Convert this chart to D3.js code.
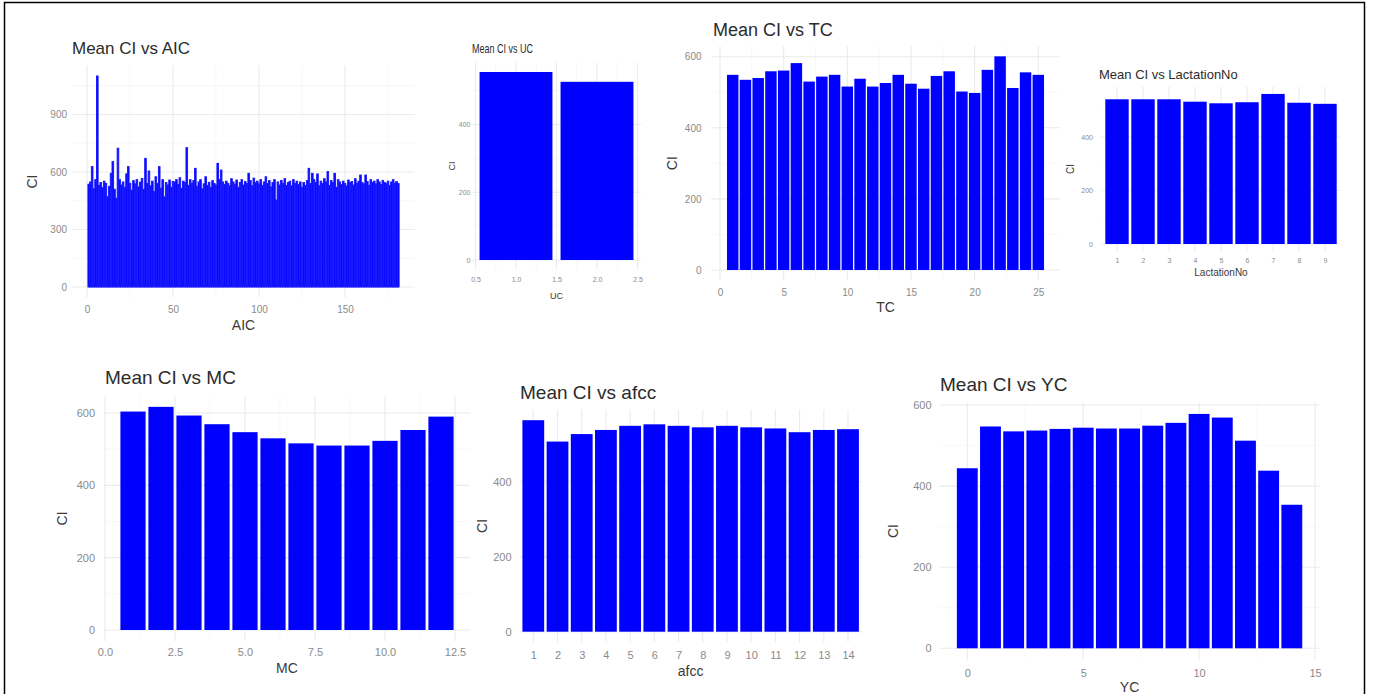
<!DOCTYPE html>
<html>
<head>
<meta charset="utf-8">
<script src="https://cdn.jsdelivr.net/npm/d3@7"></script>
<style>
  body { margin: 0; background: #fff; }
  svg { display: block; }
</style>
</head>
<body>
<div id="chart"></div>
<script>
// ---- data: mean CI per level of each variable ----
const aicCats = d3.range(1, 182);
const aicValues = [
  536, 548, 628, 512, 560, 1101, 530, 545, 518, 552,
  540, 471, 525, 593, 654, 510, 463, 724, 560, 532,
  548, 520, 590, 628, 541, 505, 555, 538, 560, 522,
  547, 566, 510, 671, 540, 605, 528, 552, 498, 575,
  540, 628, 515, 560, 470, 545, 532, 558, 520, 550,
  548, 560, 535, 570, 515, 552, 545, 727, 530, 560,
  541, 555, 619, 525, 548, 560, 512, 538, 575, 530,
  546, 520, 555, 540, 532, 645, 560, 610, 548, 535,
  552, 540, 528, 565, 548, 536, 558, 520, 545, 560,
  532, 550, 540, 593, 555, 528, 568, 545, 552, 538,
  560, 530, 548, 575, 540, 555, 522, 545, 560, 454,
  548, 532, 556, 540, 565, 530, 545, 552, 528, 560,
  540, 552, 535, 548, 520, 545, 530, 555, 619, 540,
  593, 560, 545, 590, 528, 552, 540, 565, 548, 602,
  530, 555, 545, 593, 520, 560, 548, 535, 552, 540,
  528, 558, 545, 550, 532, 565, 540, 552, 584, 545,
  538, 584, 550, 530, 560, 545, 552, 538, 560, 548,
  535, 556, 545, 540, 552, 530, 548, 560, 542, 550,
  540
];
const aicXTicks = [0, 50, 100, 150];
const aicYTicks = [0, 300, 600, 900];

const ucCats = [1, 2];
const ucValues = [555, 526];
const ucXTicks = [0.5, 1.0, 1.5, 2.0, 2.5];
const ucYTicks = [0, 200, 400];

const tcCats = d3.range(1, 26);
const tcValues = [549, 535, 540, 559, 561, 582, 530, 544, 549, 516,
                  538, 516, 526, 549, 524, 510, 546, 559, 502, 498,
                  563, 601, 512, 556, 549];
const tcXTicks = [0, 5, 10, 15, 20, 25];
const tcYTicks = [0, 200, 400, 600];

const lactCats = d3.range(1, 10);
const lactValues = [541, 541, 541, 532, 526, 530, 561, 528, 524];
const lactYTicks = [0, 200, 400];

const mcCats = d3.range(1, 13);
const mcValues = [604, 617, 593, 569, 547, 530, 516, 510, 510, 523, 553, 590];
const mcXTicks = [0, 2.5, 5, 7.5, 10, 12.5];
const mcYTicks = [0, 200, 400, 600];

const afccCats = d3.range(1, 15);
const afccValues = [564, 507, 527, 538, 549, 553, 549, 545, 549, 545, 542, 532, 538, 540];
const afccYTicks = [0, 200, 400];

const ycCats = d3.range(0, 15);
const ycValues = [444, 547, 535, 537, 541, 544, 542, 542, 549, 556, 578, 569, 512, 438, 354];
const ycXTicks = [0, 5, 10, 15];
const ycYTicks = [0, 200, 400, 600];

// ---- layout of the seven pasted-together plots ----
const FONT = "'Liberation Sans', Arial, Helvetica, sans-serif";
const width = 1373, height = 694;

const panels = [
  { title: "Mean CI vs AIC", xTitle: "AIC", cats: aicCats, values: aicValues,
    xTicks: aicXTicks, yTicks: aicYTicks, fmt: d3.format("d"), barStroke: 1,
    xDomain: [0, 150], xRange: [87, 345], yDomain: [0, 900], yRange: [287, 114.5],
    titleX: 72, titleY: 54, titleSize: 17, yLabelRight: 67, xLabelCenter: 310,
    yTitleX: 32, xTitleY: 330, axisTitleSize: 14, tickSize: 10 },
  { title: "Mean CI vs UC", xTitle: "UC", cats: ucCats, values: ucValues,
    xTicks: ucXTicks, yTicks: ucYTicks, fmt: d3.format(".1f"),
    xDomain: [1, 2], xRange: [516, 597], yDomain: [0, 400], yRange: [260, 124.5],
    titleX: 472, titleY: 53, titleSize: 13, titleLength: 61, yLabelRight: 470.5, xLabelCenter: 280,
    yTitleX: 452, xTitleY: 299, axisTitleSize: 9, tickSize: 7 },
  { title: "Mean CI vs TC", xTitle: "TC", cats: tcCats, values: tcValues,
    xTicks: tcXTicks, yTicks: tcYTicks, fmt: d3.format("d"),
    xDomain: [0, 25], xRange: [720, 1038.3], yDomain: [0, 600], yRange: [270, 56.7],
    titleX: 713, titleY: 36, titleSize: 18, yLabelRight: 701.5, xLabelCenter: 293,
    yTitleX: 672, xTitleY: 312, axisTitleSize: 14, tickSize: 10 },
  { title: "Mean CI vs LactationNo", xTitle: "LactationNo", cats: lactCats, values: lactValues,
    xTicks: lactCats, yTicks: lactYTicks, fmt: d3.format("d"), discrete: true,
    xDomain: [1, 9], xRange: [1117, 1325], yDomain: [0, 400], yRange: [244, 137],
    titleX: 1099, titleY: 79, titleSize: 13, yLabelRight: 1093, xLabelCenter: 261,
    yTitleX: 1070, xTitleY: 276, axisTitleSize: 10, tickSize: 7 },
  { title: "Mean CI vs MC", xTitle: "MC", cats: mcCats, values: mcValues,
    xTicks: mcXTicks, yTicks: mcYTicks, fmt: d3.format(".1f"),
    xDomain: [0, 12.5], xRange: [105, 455], yDomain: [0, 600], yRange: [630, 413],
    titleX: 105, titleY: 384, titleSize: 19, yLabelRight: 95, xLabelCenter: 652,
    yTitleX: 62, xTitleY: 673, axisTitleSize: 14, tickSize: 11 },
  { title: "Mean CI vs afcc", xTitle: "afcc", cats: afccCats, values: afccValues,
    xTicks: afccCats, yTicks: afccYTicks, fmt: d3.format("d"), discrete: true,
    xDomain: [1, 14], xRange: [533.3, 848], yDomain: [0, 400], yRange: [631.7, 481.7],
    titleX: 520, titleY: 399, titleSize: 19, yLabelRight: 511.5, xLabelCenter: 655,
    yTitleX: 482, xTitleY: 676, axisTitleSize: 14, tickSize: 11 },
  { title: "Mean CI vs YC", xTitle: "YC", cats: ycCats, values: ycValues,
    xTicks: ycXTicks, yTicks: ycYTicks, fmt: d3.format("d"),
    xDomain: [0, 15], xRange: [967.3, 1315], yDomain: [0, 600], yRange: [648.3, 405],
    titleX: 940, titleY: 391, titleSize: 19, yLabelRight: 931.5, xLabelCenter: 673,
    yTitleX: 893, xTitleY: 692, axisTitleSize: 14, tickSize: 11 }
];

const svg = d3.select("#chart").append("svg")
  .attr("width", width)
  .attr("height", height)
  .style("font-family", FONT);

svg.append("rect").attr("width", width).attr("height", height).attr("fill", "#fff");

// midpoints between major breaks, kept inside the panel
function minorBreaks(ticks, a, b) {
  const step = ticks[1] - ticks[0];
  const out = [ticks[0] - step / 2].concat(ticks.map((t) => t + step / 2));
  return out.filter((v) => v > a && v < b);
}

function drawPanel(p) {
  const x = d3.scaleLinear().domain(p.xDomain).range(p.xRange);
  const y = d3.scaleLinear().domain(p.yDomain).range(p.yRange);

  // ggplot-style expansion
  const lo = d3.min(p.cats), hi = d3.max(p.cats);
  let xMin, xMax;
  if (p.discrete) {
    xMin = lo - 0.6;
    xMax = hi + 0.6;
  } else {
    const a = lo - 0.45, b = hi + 0.45, e = (b - a) * 0.05;
    xMin = a - e;
    xMax = b + e;
  }
  const vMax = d3.max(p.values);
  const yMin = -vMax * 0.05, yMax = vMax * 1.05;
  const left = x(xMin), right = x(xMax), top = y(yMax), bottom = y(yMin);

  const g = svg.append("g");

  // grid
  const grid = g.append("g").attr("class", "grid");
  minorBreaks(p.yTicks, yMin, yMax).forEach((v) => {
    grid.append("line").attr("x1", left).attr("x2", right)
      .attr("y1", y(v)).attr("y2", y(v))
      .attr("stroke", "#f4f4f4").attr("stroke-width", 0.6);
  });
  if (!p.discrete) {
    minorBreaks(p.xTicks, xMin, xMax).forEach((v) => {
      grid.append("line").attr("y1", top).attr("y2", bottom)
        .attr("x1", x(v)).attr("x2", x(v))
        .attr("stroke", "#f4f4f4").attr("stroke-width", 0.6);
    });
  }
  p.yTicks.forEach((v) => {
    grid.append("line").attr("x1", left).attr("x2", right)
      .attr("y1", y(v)).attr("y2", y(v))
      .attr("stroke", "#ebebeb").attr("stroke-width", 1.1);
  });
  p.xTicks.forEach((v) => {
    grid.append("line").attr("y1", top).attr("y2", bottom)
      .attr("x1", x(v)).attr("x2", x(v))
      .attr("stroke", "#ebebeb").attr("stroke-width", 1.1);
  });

  // bars
  g.append("g")
    .selectAll("rect")
    .data(p.cats.map((c, i) => ({ c: c, v: p.values[i] })))
    .enter()
    .append("rect")
    .attr("x", (d) => x(d.c - 0.45))
    .attr("width", (d) => x(d.c + 0.45) - x(d.c - 0.45))
    .attr("y", (d) => y(d.v))
    .attr("height", (d) => y(0) - y(d.v))
    .attr("fill", "blue")
    .attr("stroke", p.barStroke ? "#1a1aff" : null)
    .attr("stroke-width", p.barStroke || null);

  // axes (text only, like theme_minimal)
  const yAxis = d3.axisLeft(y).tickValues(p.yTicks).tickSize(0)
    .tickPadding(left - p.yLabelRight).tickFormat(d3.format("d"));
  g.append("g")
    .attr("transform", `translate(${left},0)`)
    .call(yAxis)
    .attr("font-family", FONT)
    .attr("font-size", p.tickSize)
    .call((a) => a.select(".domain").remove())
    .selectAll("text").attr("fill", "#8a8a8a");

  const xAxis = d3.axisBottom(x).tickValues(p.xTicks).tickSize(0)
    .tickPadding(p.xLabelCenter - bottom - 0.36 * p.tickSize).tickFormat(p.fmt);
  g.append("g")
    .attr("transform", `translate(0,${bottom})`)
    .call(xAxis)
    .attr("font-family", FONT)
    .attr("font-size", p.tickSize)
    .call((a) => a.select(".domain").remove())
    .selectAll("text").attr("fill", "#8a8a8a");

  // titles
  const t = g.append("text")
    .attr("x", p.titleX)
    .attr("y", p.titleY)
    .attr("font-size", p.titleSize)
    .attr("fill", "#2b2b2b")
    .text(p.title);
  if (p.titleLength) {
    t.attr("textLength", p.titleLength).attr("lengthAdjust", "spacingAndGlyphs");
  }

  g.append("text")
    .attr("x", (left + right) / 2)
    .attr("y", p.xTitleY)
    .attr("text-anchor", "middle")
    .attr("font-size", p.axisTitleSize)
    .attr("fill", "#3a3a3a")
    .text(p.xTitle);

  g.append("text")
    .attr("transform", `translate(${p.yTitleX},${(top + bottom) / 2}) rotate(-90)`)
    .attr("dy", "0.35em")
    .attr("text-anchor", "middle")
    .attr("font-size", p.axisTitleSize)
    .attr("fill", "#3a3a3a")
    .text("CI");
}

panels.forEach(drawPanel);

// frame round the whole figure
svg.append("rect")
  .attr("x", 4.5)
  .attr("y", 2.5)
  .attr("width", 1360)
  .attr("height", 720)
  .attr("fill", "none")
  .attr("stroke", "#000")
  .attr("stroke-width", 1.5);
</script>
</body>
</html>
